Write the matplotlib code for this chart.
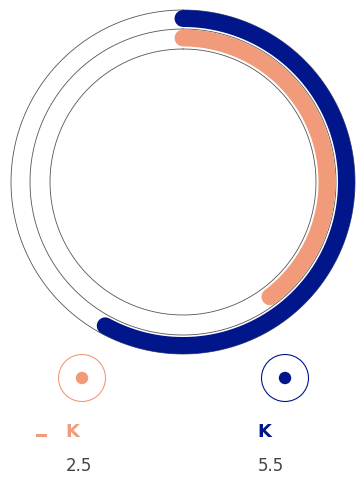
import numpy as np
import matplotlib
matplotlib.use("Agg")
import matplotlib.pyplot as plt

# two radial bars, each against its own ring total
names = ["K", "K"]
values = [2.5, 5.5]
totals = [6.3, 9.5]
colors = ["#f29b7a", "#00168a"]
value_text = ["2.5", "5.5"]

W, H = 360, 494
cx, cy = 183, 182
bar_r = [144, 163.5]
guide_r = [133, 153, 172]

fig = plt.figure(figsize=(W / 100, H / 100), dpi=100)
ax = fig.add_axes([0, 0, 1, 1])
ax.set_xlim(0, W)
ax.set_ylim(H, 0)
ax.set_aspect("equal")
ax.axis("off")

# thin guide circles
t = np.linspace(0, 2 * np.pi, 400)
for r in guide_r:
    ax.plot(cx + r * np.sin(t), cy - r * np.cos(t), color="#555555", lw=0.6)

# arcs start at 12 o'clock and run clockwise
for v, tot, r, c in zip(values, totals, bar_r, colors):
    a = np.linspace(0, 2 * np.pi * v / tot, 300)
    ax.plot(cx + r * np.sin(a), cy - r * np.cos(a), color=c, lw=12.2,
            solid_capstyle="round")

# legend markers
legend_x = [82, 285]
for x, c in zip(legend_x, colors):
    ax.add_patch(plt.Circle((x, 378), 23.5, fill=False, ec=c, lw=0.8))
    ax.add_patch(plt.Circle((x, 378), 5.5, color=c))

ax.plot([37, 45], [435, 435], color=colors[0], lw=2.2)
label_x = [72, 264]
for x, c, name, vt in zip(label_x, colors, names, value_text):
    ax.text(x, 432, name, color=c, fontsize=13, fontweight="bold",
            ha="center", va="center")
    ax.text(x + 7, 466, vt, color="#444444", fontsize=12,
            ha="center", va="center")

fig.savefig("out.png", dpi=100)
